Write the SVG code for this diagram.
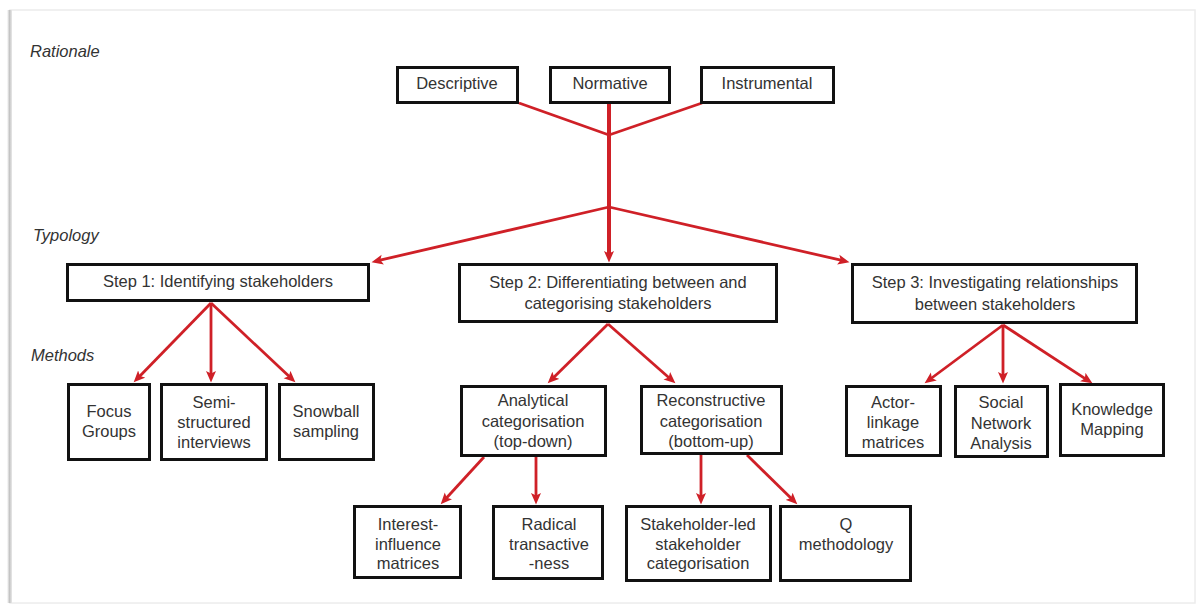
<svg xmlns="http://www.w3.org/2000/svg" width="1196" height="605" viewBox="0 0 1196 605">
  <defs>
    <style>
      .box { fill: #ffffff; stroke: #111111; stroke-width: 3; }
      .txt { font-family: "Liberation Sans", Arial, sans-serif; font-size: 16.5px; fill: #333333; text-anchor: middle; }
      .lbl { font-family: "Liberation Sans", Arial, sans-serif; font-size: 16.5px; font-style: italic; fill: #333333; }
      .link { fill: none; stroke: #cf2027; stroke-width: 2.8; }
      .trunk { fill: none; stroke: #cf2027; stroke-width: 4; }
      .arrow { marker-end: url(#head); }
    </style>
    <marker id="head" markerUnits="userSpaceOnUse" markerWidth="12" markerHeight="11" viewBox="0 0 12 11" refX="6" refY="5.5" orient="auto">
      <path d="M0,0.5 L11.5,5.5 L0,10.5 L2.5,5.5 z" fill="#cf2027"/>
    </marker>
    <linearGradient id="edge" x1="0" y1="0" x2="1" y2="0">
      <stop offset="0" stop-color="#ffffff"/>
      <stop offset="0.5" stop-color="#c4c4c4"/>
      <stop offset="1" stop-color="#e8e8e8"/>
    </linearGradient>
  </defs>

  <!-- page -->
  <rect x="0" y="0" width="1196" height="605" fill="#ffffff"/>
  <rect x="10" y="10" width="1185" height="593" fill="#ffffff" stroke="#ececec" stroke-width="1.5"/>
  <rect x="7" y="10" width="5" height="593" fill="url(#edge)"/>

  <!-- row labels -->
  <text class="lbl" x="30" y="57">Rationale</text>
  <text class="lbl" x="33" y="241">Typology</text>
  <text class="lbl" x="31" y="361">Methods</text>

  <!-- connectors -->
  <g id="connectors">
    <line class="link" x1="519" y1="103" x2="609" y2="135"/>
    <line class="link" x1="702" y1="103" x2="609" y2="135"/>
    <line class="trunk" x1="609" y1="103" x2="609" y2="207"/>
    <line class="trunk arrow" x1="609" y1="207" x2="609" y2="257"/>
    <line class="link arrow" x1="609" y1="207" x2="376.9" y2="260.9"/>
    <line class="link arrow" x1="609" y1="207" x2="844.1" y2="260.9"/>

    <line class="link arrow" x1="211" y1="303" x2="137.5" y2="378.4"/>
    <line class="link arrow" x1="211" y1="303" x2="211" y2="377"/>
    <line class="link arrow" x1="211" y1="303" x2="291.4" y2="378.6"/>

    <line class="link arrow" x1="608" y1="324" x2="551.6" y2="379.5"/>
    <line class="link arrow" x1="608" y1="324" x2="671.3" y2="379.7"/>

    <line class="link arrow" x1="1003" y1="325" x2="929" y2="380"/>
    <line class="link arrow" x1="1003" y1="325" x2="1003" y2="378"/>
    <line class="link arrow" x1="1003" y1="325" x2="1087.8" y2="380.3"/>

    <line class="link arrow" x1="484" y1="457" x2="444.4" y2="500.3"/>
    <line class="link arrow" x1="536" y1="457" x2="536" y2="499"/>
    <line class="link arrow" x1="701" y1="455" x2="701" y2="499"/>
    <line class="link arrow" x1="747" y1="455" x2="793.4" y2="500.5"/>
  </g>

  <!-- rationale -->
  <g id="descriptive">
    <rect class="box" x="397.5" y="67.5" width="120" height="35"/>
    <text class="txt" x="457" y="89">Descriptive</text>
  </g>
  <g id="normative">
    <rect class="box" x="550.5" y="67.5" width="119" height="35"/>
    <text class="txt" x="610" y="89">Normative</text>
  </g>
  <g id="instrumental">
    <rect class="box" x="701.5" y="67.5" width="132" height="35"/>
    <text class="txt" x="767" y="89">Instrumental</text>
  </g>

  <!-- typology -->
  <g id="step1">
    <rect class="box" x="67.5" y="264.5" width="301" height="36"/>
    <text class="txt" x="218" y="287">Step 1: Identifying stakeholders</text>
  </g>
  <g id="step2">
    <rect class="box" x="459.5" y="264.5" width="317" height="57"/>
    <text class="txt" x="618" y="288">Step 2: Differentiating between and</text>
    <text class="txt" x="618" y="309">categorising stakeholders</text>
  </g>
  <g id="step3">
    <rect class="box" x="852.5" y="264.5" width="284" height="58"/>
    <text class="txt" x="995" y="288">Step 3: Investigating relationships</text>
    <text class="txt" x="995" y="310">between stakeholders</text>
  </g>

  <!-- methods -->
  <g id="focus-groups">
    <rect class="box" x="68.5" y="384.5" width="81" height="75"/>
    <text class="txt" x="109" y="417">Focus</text>
    <text class="txt" x="109" y="437">Groups</text>
  </g>
  <g id="semi-structured">
    <rect class="box" x="161.5" y="384.5" width="105" height="75"/>
    <text class="txt" x="214" y="408">Semi-</text>
    <text class="txt" x="214" y="428">structured</text>
    <text class="txt" x="214" y="448">interviews</text>
  </g>
  <g id="snowball">
    <rect class="box" x="279.5" y="384.5" width="94" height="75"/>
    <text class="txt" x="326" y="417">Snowball</text>
    <text class="txt" x="326" y="437">sampling</text>
  </g>

  <g id="analytical">
    <rect class="box" x="461.5" y="386.5" width="144" height="69"/>
    <text class="txt" x="533" y="406">Analytical</text>
    <text class="txt" x="533" y="427">categorisation</text>
    <text class="txt" x="533" y="447">(top-down)</text>
  </g>
  <g id="reconstructive">
    <rect class="box" x="641.5" y="386.5" width="140" height="67"/>
    <text class="txt" x="711" y="406">Reconstructive</text>
    <text class="txt" x="711" y="427">categorisation</text>
    <text class="txt" x="711" y="447">(bottom-up)</text>
  </g>

  <g id="actor-linkage">
    <rect class="box" x="846.5" y="386.5" width="94" height="69"/>
    <text class="txt" x="893" y="408">Actor-</text>
    <text class="txt" x="893" y="428">linkage</text>
    <text class="txt" x="893" y="448">matrices</text>
  </g>
  <g id="social-network">
    <rect class="box" x="955.5" y="386.5" width="92" height="70"/>
    <text class="txt" x="1001" y="408">Social</text>
    <text class="txt" x="1001" y="429">Network</text>
    <text class="txt" x="1001" y="449">Analysis</text>
  </g>
  <g id="knowledge-mapping">
    <rect class="box" x="1060.5" y="384.5" width="103" height="71"/>
    <text class="txt" x="1112" y="415">Knowledge</text>
    <text class="txt" x="1112" y="435">Mapping</text>
  </g>

  <g id="interest-influence">
    <rect class="box" x="354.5" y="506.5" width="106" height="71"/>
    <text class="txt" x="408" y="530">Interest-</text>
    <text class="txt" x="408" y="550">influence</text>
    <text class="txt" x="408" y="569">matrices</text>
  </g>
  <g id="radical-transactiveness">
    <rect class="box" x="493.5" y="506.5" width="109" height="72"/>
    <text class="txt" x="549" y="530">Radical</text>
    <text class="txt" x="549" y="550">transactive</text>
    <text class="txt" x="549" y="569">-ness</text>
  </g>
  <g id="stakeholder-led">
    <rect class="box" x="626.5" y="506.5" width="144" height="74"/>
    <text class="txt" x="698" y="530">Stakeholder-led</text>
    <text class="txt" x="698" y="550">stakeholder</text>
    <text class="txt" x="698" y="569">categorisation</text>
  </g>
  <g id="q-methodology">
    <rect class="box" x="780.5" y="506.5" width="130" height="74"/>
    <text class="txt" x="846" y="530">Q</text>
    <text class="txt" x="846" y="550">methodology</text>
  </g>
</svg>
